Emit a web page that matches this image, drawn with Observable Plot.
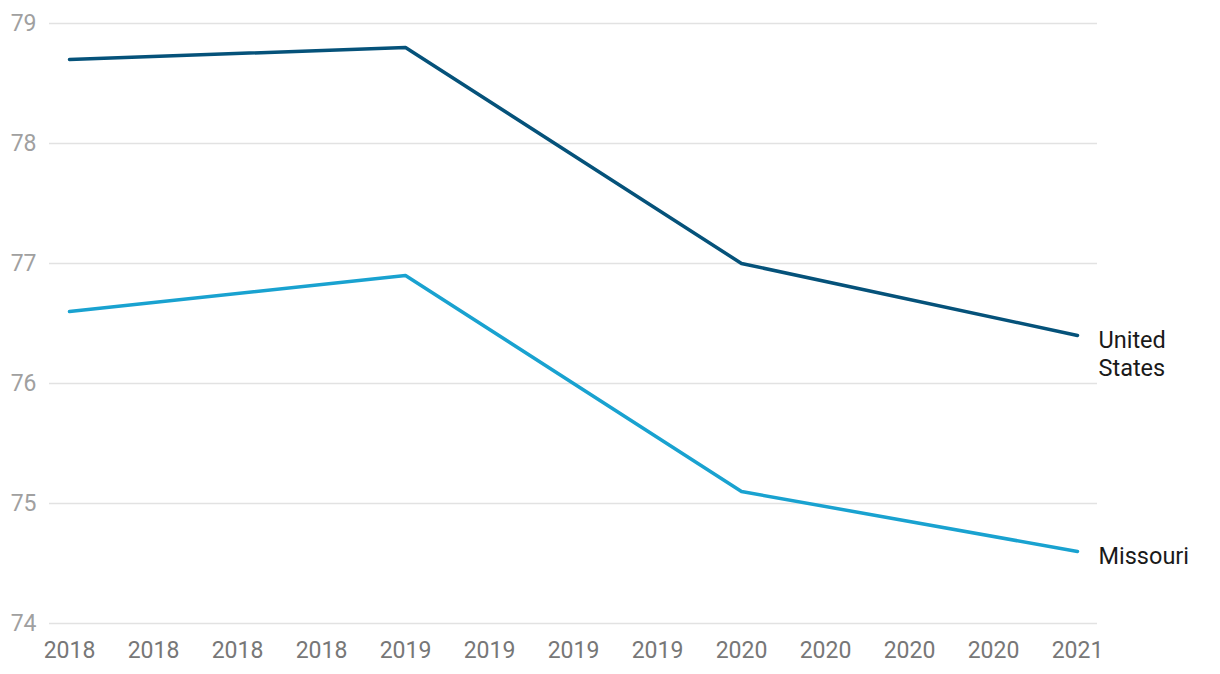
<!DOCTYPE html>
<html><head><meta charset="utf-8">
<script src="https://cdn.jsdelivr.net/npm/d3@7"></script>
<script src="https://cdn.jsdelivr.net/npm/@observablehq/plot@0.6"></script>
<style>body{margin:0;background:#fff;font-family:Roboto,sans-serif}</style>
</head><body><div id="chart"></div>
<script>
const years = [2018, 2019, 2020, 2021];
const unitedStates = [78.7, 78.8, 77.0, 76.4];
const missouri = [76.6, 76.9, 75.1, 74.6];
const seriesNames = ["United\nStates", "Missouri"];
const yTicks = [74, 75, 76, 77, 78, 79];
const xTicks = d3.range(2018, 2021.01, 0.25);

const colors = ["#05527a", "#19a2d0"];
const data = [];
[unitedStates, missouri].forEach((vals, i) => vals.forEach((v, j) => data.push({series: seriesNames[i], year: years[j], value: v})));
const last = data.filter(d => d.year === 2021);
const yearFmt = d => String(Math.floor(d + 1e-9));

const chart = Plot.plot({
  width: 1220, height: 674,
  marginLeft: 69, marginRight: 143, marginTop: 23, marginBottom: 51,
  style: {fontFamily: "Roboto, sans-serif", background: "#fff"},
  x: {domain: [2018, 2021], label: null},
  y: {domain: [74, 79], label: null},
  color: {domain: seriesNames, range: colors},
  marks: [
    Plot.ruleY(yTicks, {stroke: "#e2e2e2", strokeWidth: 1.5, insetLeft: -20, insetRight: -20}),
    Plot.axisY({ticks: yTicks, tickFormat: d => String(d), tickSize: 0, tickPadding: 33, fontSize: 23, color: "#a0a0a0", label: null}),
    Plot.axisX({ticks: xTicks, tickFormat: yearFmt, tickSize: 0, tickPadding: 18, fontSize: 23, color: "#777", label: null}),
    Plot.line(data, {x: "year", y: "value", z: "series", stroke: "series", strokeWidth: 3.5}),
    Plot.text(last, {x: "year", y: "value", text: "series", textAnchor: "start", lineAnchor: "top", dx: 21, dy: -8, fontSize: 23.5, lineHeight: 1.2, fill: "#1a1a1a"})
  ]
});
document.getElementById("chart").append(chart);
</script></body></html>
